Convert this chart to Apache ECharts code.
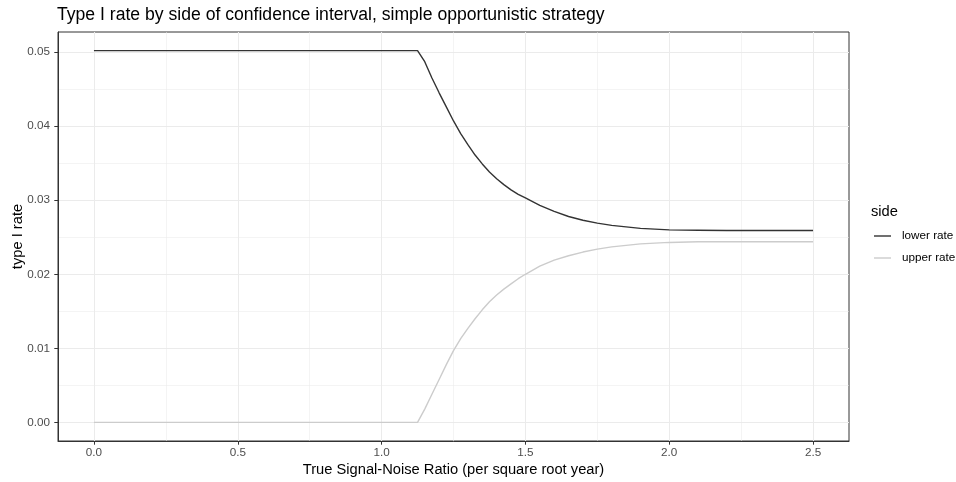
<!DOCTYPE html>
<html><head><meta charset="utf-8">
<script src="https://cdn.jsdelivr.net/npm/echarts@6/dist/echarts.min.js"></script>
<style>html,body{margin:0;padding:0;background:#fff}#c{width:956px;height:482px}</style>
</head><body><div id="c"></div>
<script>
const snr = [0, 0.25, 0.5, 0.75, 1.0, 1.1, 1.125, 1.15, 1.175, 1.2, 1.225, 1.25, 1.275, 1.3, 1.325, 1.35, 1.375, 1.4, 1.425, 1.45, 1.475, 1.5, 1.55, 1.6, 1.65, 1.7, 1.75, 1.8, 1.85, 1.9, 1.95, 2.0, 2.1, 2.2, 2.3, 2.4, 2.5];
const lowerRate = [0.0502, 0.0502, 0.0502, 0.0502, 0.0502, 0.0502, 0.0502, 0.0487, 0.0465, 0.0445, 0.0426, 0.0407, 0.0390, 0.0375, 0.0361, 0.0349, 0.0338, 0.0329, 0.0321, 0.0314, 0.0308, 0.0303, 0.0293, 0.0285, 0.0278, 0.0273, 0.0269, 0.0266, 0.0264, 0.0262, 0.0261, 0.0260, 0.02595, 0.0259, 0.0259, 0.0259, 0.0259];
const upperRate = [0, 0, 0, 0, 0, 0, 0, 0.0018, 0.0038, 0.0058, 0.0078, 0.0097, 0.0113, 0.0127, 0.0140, 0.0152, 0.0163, 0.0172, 0.0180, 0.0187, 0.0194, 0.0200, 0.0211, 0.0219, 0.0225, 0.0230, 0.0234, 0.0237, 0.0239, 0.0241, 0.0242, 0.0243, 0.0244, 0.0244, 0.0244, 0.0244, 0.0244];
const seriesNames = ['lower rate', 'upper rate'];
const xTicks = [0, 0.5, 1.0, 1.5, 2.0, 2.5];
const xMinor = [0.25, 0.75, 1.25, 1.75, 2.25];
const yTicks = [0, 0.01, 0.02, 0.03, 0.04, 0.05];
const yMinor = [0.005, 0.015, 0.025, 0.035, 0.045];

const FONT = 'Liberation Sans, Arial, Helvetica, sans-serif';
const xMin = -0.125, xMax = 2.625, yMin = -0.00251, yMax = 0.05271;

const chart = echarts.init(document.getElementById('c'), null, {renderer: 'canvas'});
const pairs = arr => snr.map((x, i) => [x, arr[i]]);

const gridLine = (w) => ({show: true, lineStyle: {color: '#EBEBEB', width: w}});
const keyIcon = 'path://M0,6.3 L17,6.3 L17,7.7 L0,7.7 Z';
const borderLine = {show: true, onZero: false, lineStyle: {color: '#333333', width: 1}};
const opt = {
  animation: false,
  backgroundColor: '#ffffff',
  textStyle: {fontFamily: FONT},
  title: [
    {text: 'Type I rate by side of confidence interval, simple opportunistic strategy', left: 57, top: 6, padding: 0,
     textStyle: {fontFamily: FONT, fontSize: 17.6, fontWeight: 'normal', color: '#000'}},
    {text: 'side', left: 871, top: 204, padding: 0, textStyle: {fontFamily: FONT, fontSize: 14.7, fontWeight: 'normal', color: '#000'}}
  ],
  grid: {left: 58, right: 107, top: 32, bottom: 41, show: true, borderColor: '#333333', borderWidth: 1,
         backgroundColor: '#fff', containLabel: false, outerBoundsMode: 'none'},
  legend: {
    orient: 'vertical', left: 874, top: 230, padding: 0, itemWidth: 17, itemHeight: 14, itemGap: 10,
    data: [
      {name: seriesNames[0], icon: keyIcon},
      {name: seriesNames[1], icon: keyIcon}
    ],
    textStyle: {fontFamily: FONT, fontSize: 11.7, color: '#000', padding: [0, 0, 0, 6]}
  },
  xAxis: [
    {type: 'value', min: xMin, max: xMax,
     name: 'True Signal-Noise Ratio (per square root year)', nameLocation: 'middle', nameGap: 21, nameMoveOverlap: false,
     nameTextStyle: {fontFamily: FONT, fontSize: 14.7, color: '#000'},
     axisLine: borderLine,
     axisTick: {show: true, length: 3.7, lineStyle: {color: '#333333', width: 1}, customValues: xTicks},
     axisLabel: {show: true, margin: 6, color: '#4D4D4D', fontSize: 11.7, fontFamily: FONT, customValues: xTicks,
                 formatter: v => v.toFixed(1)},
     splitLine: gridLine(1.07)},
    {type: 'value', min: xMin, max: xMax, position: 'bottom',
     axisLine: {show: false, onZero: false}, axisLabel: {show: false},
     axisTick: {show: false, customValues: xMinor},
     splitLine: gridLine(0.53)}
  ],
  yAxis: [
    {type: 'value', min: yMin, max: yMax,
     name: 'type I rate', nameLocation: 'middle', nameGap: 33, nameMoveOverlap: false,
     nameTextStyle: {fontFamily: FONT, fontSize: 14.7, color: '#000'},
     axisLine: borderLine,
     axisTick: {show: true, length: 3.7, lineStyle: {color: '#333333', width: 1}, customValues: yTicks},
     axisLabel: {show: true, margin: 8, color: '#4D4D4D', fontSize: 11.7, fontFamily: FONT, customValues: yTicks,
                 formatter: v => v.toFixed(2)},
     splitLine: gridLine(1.07)},
    {type: 'value', min: yMin, max: yMax, position: 'left',
     axisLine: {show: false, onZero: false}, axisLabel: {show: false},
     axisTick: {show: false, customValues: yMinor},
     splitLine: gridLine(0.53)}
  ],
  series: [
    {name: seriesNames[0], type: 'line', data: pairs(lowerRate), showSymbol: false, symbol: 'none',
     color: '#333333', lineStyle: {color: '#333333', width: 1.4}, z: 3},
    {name: seriesNames[1], type: 'line', data: pairs(upperRate), showSymbol: false, symbol: 'none',
     color: '#CCCCCC', lineStyle: {color: '#CCCCCC', width: 1.4}, z: 2}
  ]
};
chart.setOption(opt);
</script></body></html>
